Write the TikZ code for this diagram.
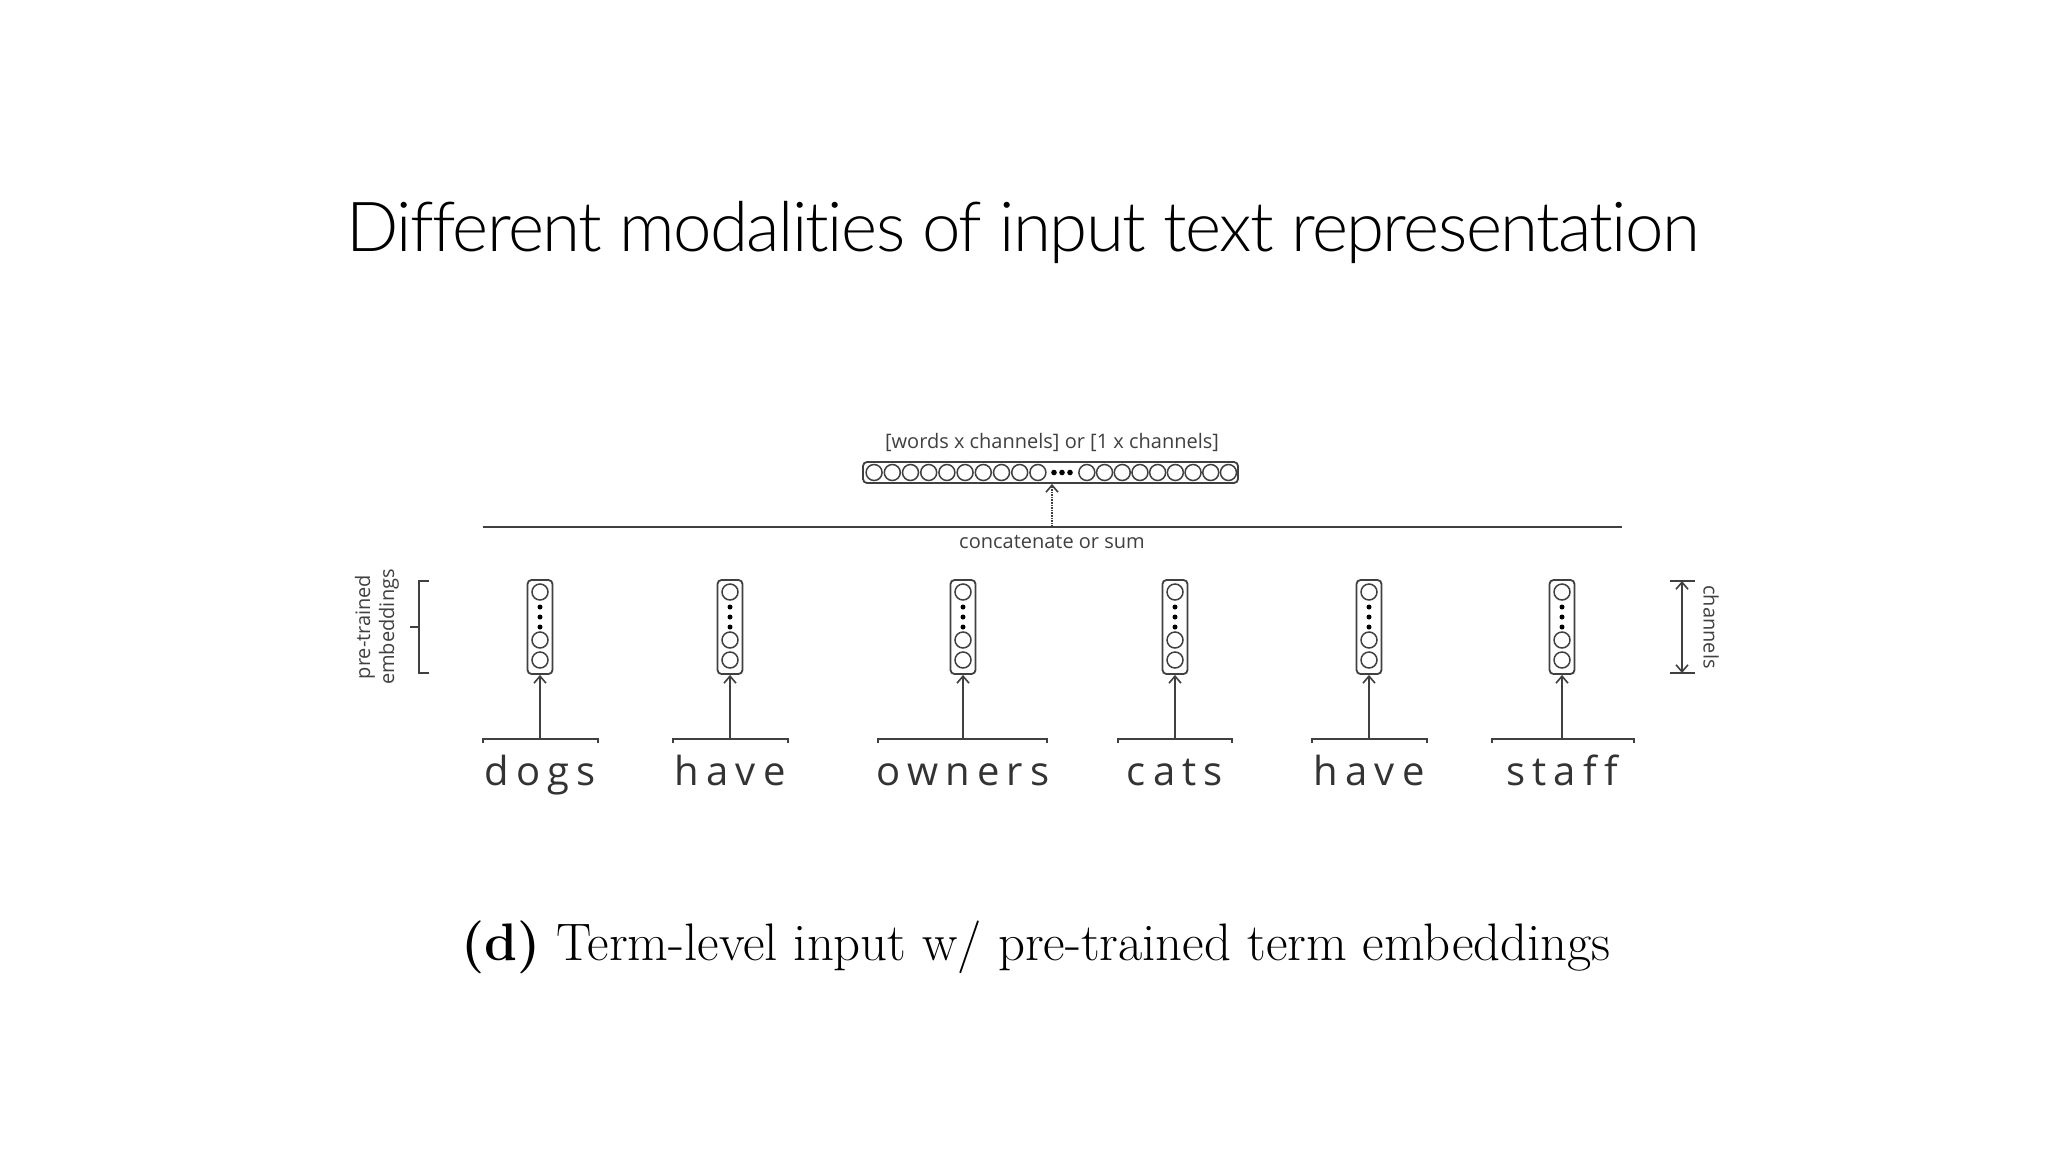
\documentclass[tikz,border=0pt]{standalone}
\usepackage{fontspec}
\usetikzlibrary{arrows.meta}
\newfontfamily\titlefont{Lato Light}[Ligatures=NoCommon,LetterSpace=-2.3]
\newfontfamily\labelfont{Open Sans}
\newfontfamily\wordfont{Open Sans}[Ligatures=NoCommon,LetterSpace=18]
\definecolor{ink}{HTML}{404040}
\definecolor{wordink}{HTML}{333333}
\begin{document}
\begin{tikzpicture}[x=1pt,y=-1pt,
  gline/.style={draw=ink,line width=1.8pt},
  colbox/.style={draw=ink,line width=1.8pt,rectangle,rounded corners=4pt,minimum width=25pt,minimum height=94pt,inner sep=0pt},
  vecbox/.style={draw=ink,line width=1.8pt,rectangle,rounded corners=4pt,minimum width=375pt,minimum height=21pt,inner sep=0pt},
  circ/.style={draw=ink,line width=1.5pt},
  barb/.style={draw=ink,line width=1.6pt,-{Straight Barb[length=7pt,width=12pt,line width=1.6pt]}},
  smalllabel/.style={font=\labelfont\fontsize{20}{24}\selectfont,text=ink,inner sep=0pt},
  wordlabel/.style={font=\wordfont\fontsize{40}{44}\selectfont,text=wordink,inner sep=0pt,anchor=base}]
\fill[white] (0,0) rectangle (2048,1152);
\useasboundingbox (0,0) rectangle (2048,1152);
% title
\node[font=\titlefont\fontsize{69}{76}\selectfont,anchor=base,inner sep=0pt] (title) at (1023,251) {Different modalities of input text representation};
% top vector
\node[vecbox] (vec) at (1050.5,472.5) {};
\foreach \k in {0,...,9} {\draw[circ] ({874.1+18.2*\k},472.5) circle (8);}
\foreach \k in {0,...,8} {\draw[circ] ({1086.85+17.7*\k},472.5) circle (8);}
\foreach \xx in {1054,1062,1070} {\fill[black] (\xx,472.5) circle (2.8);}
\node[smalllabel] (veclabel) at (1052,442) {[words x channels] or [1 x channels]};
% concatenate line
\coordinate (lineL) at (483,527);
\coordinate (lineR) at (1622,527);
\draw[gline] (lineL) -- (lineR);
\coordinate (mid) at (1052,527);
\draw[barb,densely dotted] (mid) -- (mid |- vec.south);
\node[smalllabel] (concat) at (1052,542) {concatenate or sum};
% columns
\foreach \i/\cx/\bl/\br/\w in {1/540/483/598/dogs,2/730/673/788/have,3/963/878/1047/owners,4/1175/1118/1232/cats,5/1369/1312/1427/have,6/1562/1492/1634/staff} {
  \node[colbox] (c\i) at (\cx,627) {};
  \draw[circ] (\cx,592) circle (8);
  \draw[circ] (\cx,640) circle (8);
  \draw[circ] (\cx,660) circle (8);
  \fill[black] (\cx,607) circle (2.5);
  \fill[black] (\cx,617) circle (2.5);
  \fill[black] (\cx,627) circle (2.5);
  \coordinate (s\i) at (\cx,739);
  \draw[gline] (\bl,743) -- (\bl,739) -- (\br,739) -- (\br,743);
  \draw[barb] (s\i) -- (c\i.south);
  \node[wordlabel] (w\i) at (\cx,785) {\w};
}
% left brace
\draw[gline] (429,581) -- (419,581) -- (419,673) -- (429,673);
\draw[gline] (419,627) -- (410,627);
\node[smalllabel,rotate=90,align=center] (pretrained) at (377,627) {pre-trained\\embeddings};
% right dimension
\coordinate (chtop) at (1682,581);
\coordinate (chbot) at (1682,673);
\draw[gline] (1670,581) -- (1695,581);
\draw[gline] (1670,673) -- (1695,673);
\draw[draw=ink,line width=1.6pt,{Straight Barb[length=7pt,width=12pt,line width=1.6pt]}-{Straight Barb[length=7pt,width=12pt,line width=1.6pt]}] (chtop) -- (chbot);
\node[smalllabel,rotate=-90] (channels) at (1711,627) {channels};
% caption
\node[font=\fontsize{52.8}{62}\selectfont,anchor=base,inner sep=0pt,text=black] (caption) at (1036,960) {\textbf{(d)} Term-level input w/ pre-trained term embeddings};
\end{tikzpicture}
\end{document}
